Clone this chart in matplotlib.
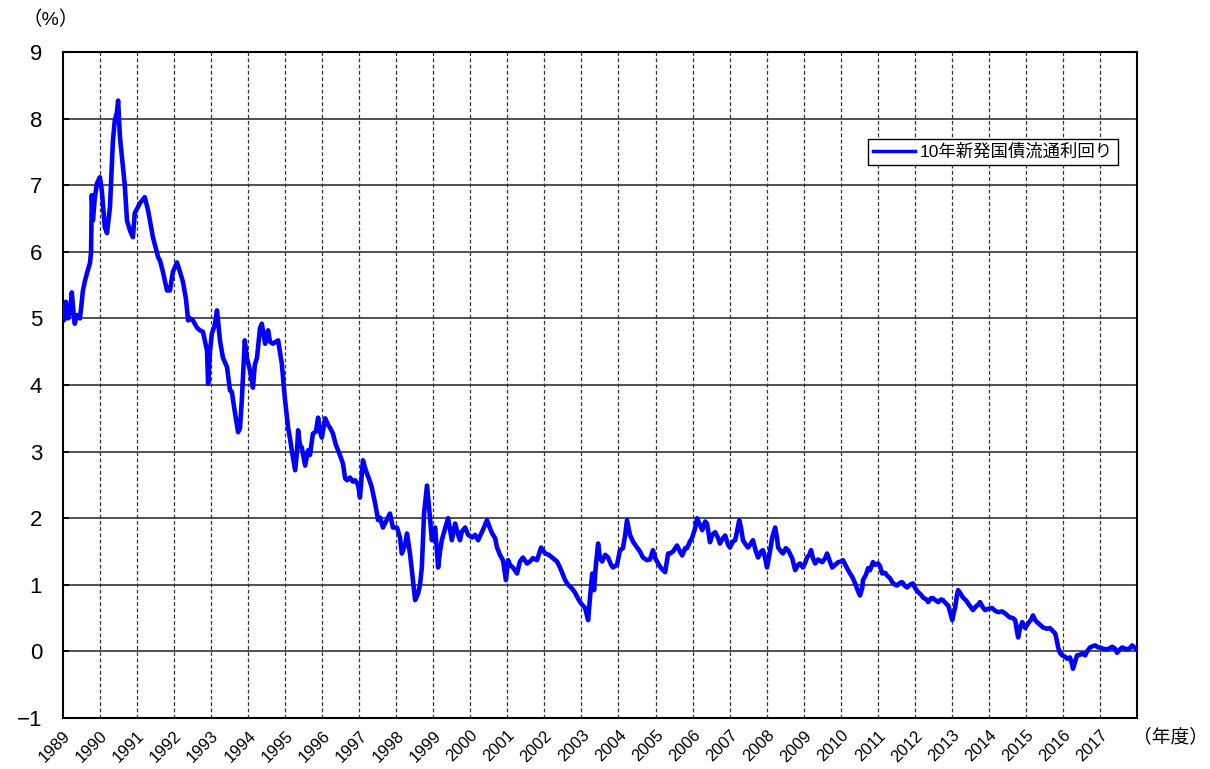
import matplotlib
matplotlib.use("Agg")
import matplotlib.pyplot as plt
import numpy as np

plt.rcParams['font.family'] = ['Liberation Sans', 'Noto Sans CJK JP', 'DejaVu Sans']

# 10年新発国債流通利回り, x = fiscal year (decimal)
fy = [1989.00, 1989.03, 1989.08, 1989.14, 1989.19, 1989.24, 1989.30, 1989.32, 1989.38, 1989.46,
      1989.49, 1989.54, 1989.59, 1989.65, 1989.73, 1989.76, 1989.78, 1989.81, 1989.86, 1989.92,
      1990.00, 1990.05, 1990.13, 1990.19, 1990.27, 1990.35, 1990.40, 1990.46, 1990.49, 1990.54,
      1990.62, 1990.67, 1990.73, 1990.81, 1990.89, 1990.94, 1991.08, 1991.21, 1991.30, 1991.43,
      1991.57, 1991.62, 1991.70, 1991.81, 1991.89, 1991.97, 1992.08, 1992.16, 1992.24, 1992.32,
      1992.38, 1992.43, 1992.51, 1992.62, 1992.70, 1992.78, 1992.89, 1992.92, 1992.97, 1993.02,
      1993.10, 1993.16, 1993.24, 1993.32, 1993.43, 1993.51, 1993.56, 1993.64, 1993.73, 1993.78,
      1993.83, 1993.91, 1993.97, 1994.05, 1994.13, 1994.18, 1994.24, 1994.32, 1994.37, 1994.46,
      1994.54, 1994.59, 1994.67, 1994.81, 1994.86, 1994.91, 1994.99, 1995.08, 1995.13, 1995.18,
      1995.27, 1995.32, 1995.35, 1995.40, 1995.45, 1995.54, 1995.62, 1995.67, 1995.75, 1995.83,
      1995.89, 1995.94, 1995.99, 1996.08, 1996.16, 1996.21, 1996.29, 1996.37, 1996.43, 1996.51,
      1996.56, 1996.62, 1996.67, 1996.75, 1996.83, 1996.89, 1996.97, 1997.02, 1997.10, 1997.16,
      1997.21, 1997.29, 1997.34, 1997.43, 1997.51, 1997.56, 1997.64, 1997.72, 1997.83, 1997.91,
      1998.02, 1998.10, 1998.15, 1998.24, 1998.29, 1998.37, 1998.45, 1998.51, 1998.59, 1998.64,
      1998.69, 1998.75, 1998.83, 1998.91, 1998.96, 1999.05, 1999.13, 1999.18, 1999.23, 1999.32,
      1999.40, 1999.50, 1999.59, 1999.67, 1999.72, 1999.77, 1999.86, 1999.94, 2000.05, 2000.13,
      2000.21, 2000.32, 2000.45, 2000.53, 2000.59, 2000.67, 2000.72, 2000.80, 2000.88, 2000.96,
      2001.02, 2001.07, 2001.15, 2001.26, 2001.34, 2001.42, 2001.53, 2001.61, 2001.69, 2001.80,
      2001.91, 2002.02, 2002.12, 2002.23, 2002.34, 2002.42, 2002.56, 2002.64, 2002.75, 2002.83,
      2002.91, 2002.99, 2003.10, 2003.18, 2003.23, 2003.29, 2003.34, 2003.39, 2003.45, 2003.50,
      2003.56, 2003.64, 2003.72, 2003.80, 2003.85, 2003.96, 2004.04, 2004.12, 2004.18, 2004.23,
      2004.31, 2004.39, 2004.50, 2004.58, 2004.66, 2004.77, 2004.85, 2004.93, 2004.99, 2005.07,
      2005.15, 2005.26, 2005.34, 2005.39, 2005.47, 2005.58, 2005.66, 2005.72, 2005.80, 2005.85,
      2005.93, 2005.99, 2006.07, 2006.12, 2006.20, 2006.26, 2006.34, 2006.39, 2006.47, 2006.53,
      2006.61, 2006.69, 2006.74, 2006.82, 2006.88, 2006.96, 2007.01, 2007.09, 2007.15, 2007.20,
      2007.26, 2007.31, 2007.36, 2007.44, 2007.50, 2007.55, 2007.63, 2007.71, 2007.77, 2007.85,
      2007.90, 2007.96, 2008.01, 2008.09, 2008.15, 2008.23, 2008.28, 2008.31, 2008.39, 2008.44,
      2008.52, 2008.58, 2008.69, 2008.77, 2008.85, 2008.90, 2008.98, 2009.04, 2009.09, 2009.15,
      2009.20, 2009.25, 2009.31, 2009.39, 2009.50, 2009.58, 2009.63, 2009.71, 2009.77, 2009.85,
      2009.93, 2010.01, 2010.06, 2010.17, 2010.25, 2010.31, 2010.39, 2010.47, 2010.52, 2010.58,
      2010.60, 2010.68, 2010.74, 2010.79, 2010.87, 2010.93, 2011.01, 2011.06, 2011.12, 2011.20,
      2011.25, 2011.33, 2011.39, 2011.47, 2011.52, 2011.60, 2011.66, 2011.74, 2011.79, 2011.87,
      2011.95, 2012.01, 2012.09, 2012.17, 2012.22, 2012.31, 2012.36, 2012.44, 2012.49, 2012.58,
      2012.63, 2012.71, 2012.76, 2012.84, 2012.90, 2012.95, 2013.01, 2013.06, 2013.09, 2013.14,
      2013.17, 2013.22, 2013.30, 2013.39, 2013.44, 2013.52, 2013.57, 2013.66, 2013.71, 2013.76,
      2013.84, 2013.90, 2013.98, 2014.09, 2014.17, 2014.25, 2014.36, 2014.44, 2014.52, 2014.57,
      2014.65, 2014.71, 2014.76, 2014.79, 2014.84, 2014.90, 2014.98, 2015.06, 2015.14, 2015.19,
      2015.25, 2015.30, 2015.38, 2015.46, 2015.57, 2015.65, 2015.74, 2015.79, 2015.84, 2015.87,
      2015.92, 2015.98, 2016.06, 2016.11, 2016.19, 2016.25, 2016.27, 2016.33, 2016.38, 2016.46,
      2016.52, 2016.60, 2016.65, 2016.73, 2016.81, 2016.87, 2016.95, 2017.00, 2017.08, 2017.19,
      2017.27, 2017.33, 2017.41, 2017.46, 2017.54, 2017.60, 2017.68, 2017.73, 2017.81, 2017.87,
      2017.95, 2018.00]

yld = [5.20, 4.97, 5.25, 5.00, 5.10, 5.39, 5.00, 4.92, 5.05, 5.00,
       5.15, 5.42, 5.55, 5.68, 5.83, 6.00, 6.85, 6.47, 6.80, 7.03,
       7.12, 6.92, 6.37, 6.28, 6.67, 7.67, 7.97, 8.10, 8.27, 7.72,
       7.27, 7.00, 6.47, 6.32, 6.22, 6.58, 6.73, 6.82, 6.62, 6.22,
       5.92, 5.87, 5.70, 5.42, 5.42, 5.70, 5.84, 5.70, 5.55, 5.30,
       4.97, 5.00, 4.97, 4.86, 4.82, 4.80, 4.52, 4.02, 4.50, 4.77,
       4.90, 5.12, 4.67, 4.41, 4.27, 3.92, 3.90, 3.60, 3.29, 3.35,
       3.77, 4.67, 4.40, 4.22, 3.96, 4.30, 4.41, 4.85, 4.92, 4.62,
       4.82, 4.65, 4.62, 4.67, 4.50, 4.32, 3.81, 3.36, 3.20, 3.02,
       2.72, 3.00, 3.32, 3.10, 3.06, 2.79, 3.02, 2.95, 3.27, 3.30,
       3.51, 3.30, 3.21, 3.50, 3.40, 3.36, 3.27, 3.10, 3.02, 2.90,
       2.82, 2.60, 2.57, 2.61, 2.55, 2.57, 2.50, 2.31, 2.87, 2.75,
       2.67, 2.55, 2.46, 2.22, 1.97, 2.01, 1.86, 1.95, 2.07, 1.86,
       1.86, 1.71, 1.47, 1.60, 1.77, 1.47, 1.07, 0.77, 0.87, 1.00,
       1.26, 2.07, 2.49, 2.01, 1.67, 1.86, 1.26, 1.50, 1.67, 1.85,
       2.00, 1.67, 1.92, 1.75, 1.67, 1.80, 1.86, 1.75, 1.71, 1.75,
       1.67, 1.80, 1.97, 1.85, 1.77, 1.70, 1.56, 1.45, 1.37, 1.07,
       1.37, 1.30, 1.26, 1.17, 1.35, 1.41, 1.32, 1.35, 1.40, 1.37,
       1.56, 1.47, 1.45, 1.40, 1.35, 1.26, 1.07, 1.00, 0.94, 0.88,
       0.79, 0.72, 0.65, 0.47, 0.80, 1.17, 0.92, 1.30, 1.62, 1.40,
       1.35, 1.45, 1.41, 1.30, 1.26, 1.30, 1.52, 1.55, 1.75, 1.97,
       1.75, 1.65, 1.56, 1.50, 1.41, 1.37, 1.38, 1.52, 1.40, 1.32,
       1.25, 1.19, 1.47, 1.47, 1.50, 1.59, 1.50, 1.44, 1.55, 1.55,
       1.65, 1.71, 1.85, 2.00, 1.90, 1.82, 1.95, 1.92, 1.64, 1.75,
       1.79, 1.70, 1.62, 1.70, 1.74, 1.60, 1.56, 1.65, 1.67, 1.80,
       1.97, 1.85, 1.67, 1.60, 1.56, 1.60, 1.67, 1.50, 1.41, 1.50,
       1.52, 1.40, 1.26, 1.50, 1.71, 1.86, 1.70, 1.56, 1.50, 1.47,
       1.55, 1.52, 1.40, 1.22, 1.30, 1.32, 1.26, 1.33, 1.41, 1.45,
       1.52, 1.40, 1.32, 1.38, 1.34, 1.40, 1.47, 1.35, 1.26, 1.30,
       1.34, 1.35, 1.37, 1.25, 1.17, 1.12, 1.02, 0.90, 0.84, 0.95,
       1.07, 1.15, 1.25, 1.22, 1.34, 1.30, 1.32, 1.28, 1.17, 1.18,
       1.14, 1.10, 1.04, 1.00, 0.99, 1.03, 1.04, 0.98, 0.96, 1.00,
       1.02, 0.95, 0.89, 0.85, 0.81, 0.78, 0.74, 0.80, 0.80, 0.76,
       0.74, 0.78, 0.77, 0.72, 0.69, 0.60, 0.47, 0.60, 0.66, 0.85,
       0.92, 0.88, 0.81, 0.76, 0.72, 0.66, 0.62, 0.68, 0.70, 0.74,
       0.66, 0.62, 0.64, 0.65, 0.61, 0.59, 0.60, 0.57, 0.53, 0.51,
       0.50, 0.47, 0.30, 0.21, 0.35, 0.44, 0.35, 0.42, 0.48, 0.54,
       0.47, 0.44, 0.40, 0.36, 0.34, 0.35, 0.30, 0.27, 0.15, 0.06,
       -0.02, -0.06, -0.08, -0.11, -0.09, -0.20, -0.26, -0.15, -0.06, -0.05,
       -0.03, -0.06, 0.00, 0.06, 0.08, 0.09, 0.06, 0.06, 0.04, 0.03,
       0.05, 0.07, 0.04, -0.02, 0.03, 0.06, 0.04, 0.03, 0.05, 0.09,
       0.05, 0.03]

years = list(range(1989, 2018))
year_labels = [str(y) for y in years]

fig = plt.figure(figsize=(12.1, 7.69), dpi=100)
ax = fig.add_axes([0.052, 0.0663, 0.8877, 0.8661])

ax.plot(fy, yld, color='#0000FF', lw=3.3, solid_joinstyle='round',
        label='10年新発国債流通利回り', zorder=3)

ax.set_xlim(1989, 2018)
ax.set_ylim(-1, 9)
ax.set_yticks(range(-1, 10))
ax.set_xticks(years)
ax.set_xticklabels(year_labels, rotation=45, ha='right', va='top',
                   rotation_mode='anchor', fontsize=12)
ax.tick_params(axis='x', length=0, pad=7)
ax.tick_params(axis='y', direction='in', length=4, width=1.2, labelsize=16, pad=15)

for y in range(0, 9):
    ax.axhline(y, color='#222222', lw=1.1, zorder=1)
for x in years[1:]:
    ax.axvline(x, color='#333333', lw=0.9, ls=(0, (3, 2)), zorder=1)

for s in ax.spines.values():
    s.set_linewidth(1.5)
    s.set_color('black')

leg = ax.legend(loc='upper right', bbox_to_anchor=(0.982, 0.87), fontsize=12.5,
                fancybox=False, framealpha=1, edgecolor='black', borderaxespad=0,
                handlelength=2.4, handletextpad=0.25, borderpad=0.3)
leg.get_frame().set_linewidth(1.0)
for h in leg.get_lines():
    h.set_linewidth(2.5)

fig.text(0.019, 0.974, '（%）', fontsize=14, ha='left', va='center')
fig.text(0.936, 0.041, '（年度）', fontsize=13.5, ha='left', va='center')

fig.savefig('out.png', dpi=100)
